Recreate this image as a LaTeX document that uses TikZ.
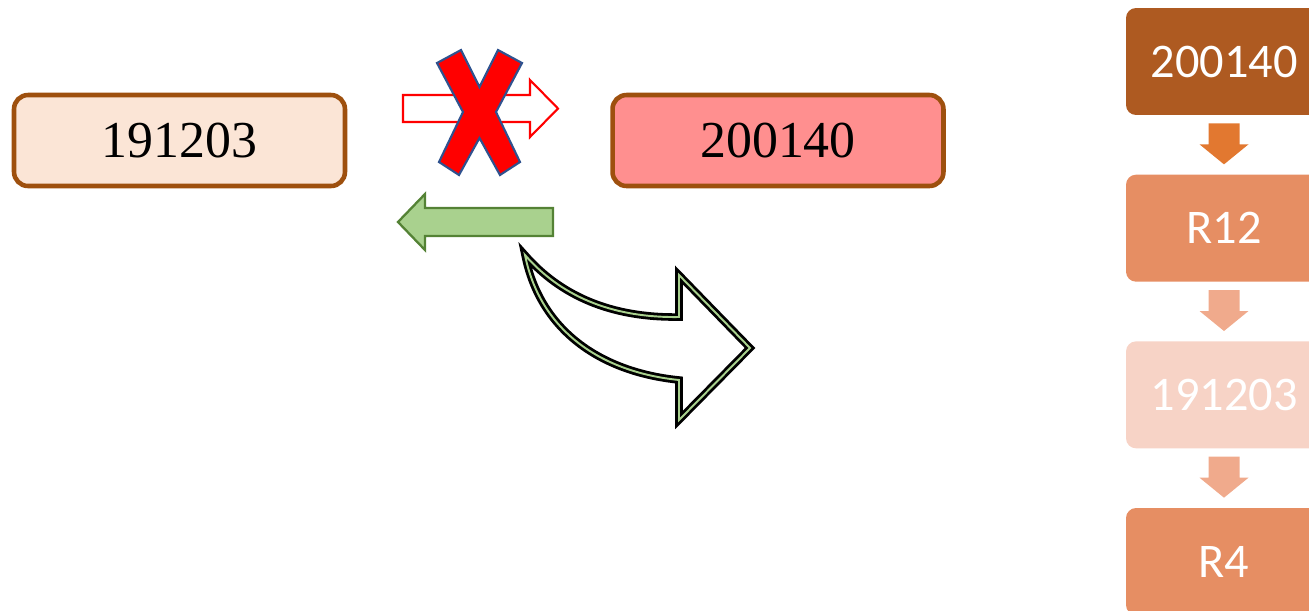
\documentclass[tikz,border=0pt]{standalone}
\usepackage{fontspec}
\newfontfamily\timesfont{Liberation Serif}
\newfontfamily\calfont{Carlito}
\usetikzlibrary{positioning,calc}
\definecolor{rand}{RGB}{158,80,14}
\definecolor{hell}{RGB}{251,229,214}
\definecolor{rosa}{RGB}{255,143,143}
\definecolor{gruen}{RGB}{169,209,142}
\definecolor{dgruen}{RGB}{84,130,53}
\definecolor{xblau}{RGB}{47,82,143}
\definecolor{braun}{RGB}{174,90,33}
\definecolor{orange1}{RGB}{226,120,48}
\definecolor{lachs}{RGB}{230,142,99}
\definecolor{lachshell}{RGB}{240,170,140}
\definecolor{blass}{RGB}{247,211,198}
\tikzset{
  kasten/.style={draw=rand, line width=2.6pt, rounded corners=0.28cm,
    minimum width=6.62cm, minimum height=1.82cm,
    font=\timesfont\fontsize{29.5}{34}\selectfont},
  stufe/.style={rounded corners=0.2cm, minimum width=3.92cm, minimum height=2.14cm,
    text=white, font=\calfont\fontsize{27.5}{33}\selectfont}
}
\begin{document}
\begin{tikzpicture}[x=0.02cm,y=-0.02cm]
  \useasboundingbox (0,0) rectangle (1309,610);
  \clip (0,0) rectangle (1309,610);
  % die beiden Kaesten
  \node[kasten, fill=hell] (alt) at (179.5,140.5) {191203};
  \node[kasten, fill=rosa] (neu) at (778,140.5) {200140};
  % durchgestrichener Pfeil
  \draw[red, line width=1.2pt, fill=white] (403,95) -- (530,95) -- (530,80) -- (558,108.5)
    -- (530,137) -- (530,122) -- (403,122) -- cycle;
  \draw[xblau, line width=1.2pt, fill=red] (437,63) -- (461,50) -- (479.5,87) -- (498,50)
    -- (522,63) -- (496,112) -- (520,162) -- (500,175) -- (479.5,138) -- (459,175)
    -- (439,162) -- (463,112) -- cycle;
  % Rueckpfeil
  \draw[dgruen, line width=1.3pt, fill=gruen] (553,208) -- (425,208) -- (425,194) -- (398,222)
    -- (425,250) -- (425,236) -- (553,236) -- cycle;
  % gebogener Pfeil
  \draw[black, line width=1.6pt, double=gruen, double distance=1.1pt, fill=white]
    (525,255) .. controls (560,295) and (610,318) .. (679,317) -- (679,275) -- (750,348)
    -- (679,420) -- (679,380) .. controls (600,372) and (540,330) .. (525,255) -- cycle;
  % Reihenfolge rechts
  \node[stufe, fill=braun] (s1) at (1224,61.5) {200140};
  \node[stufe, fill=lachs, below=1.18cm of s1] (s2) {R12};
  \node[stufe, fill=blass, below=1.18cm of s2] (s3) {191203};
  \node[stufe, fill=lachs, below=1.18cm of s3] (s4) {R4};
  \foreach \o/\u/\f in {s1/s2/orange1, s2/s3/lachshell, s3/s4/lachshell}
    \fill[\f] ($(\o.south)+(-15.5,8)$) -- ++(31,0) -- ++(0,21) -- ++(9,0) -- ++(-24.5,20)
      -- ++(-24.5,-20) -- ++(9,0) -- cycle;
\end{tikzpicture}
\end{document}
